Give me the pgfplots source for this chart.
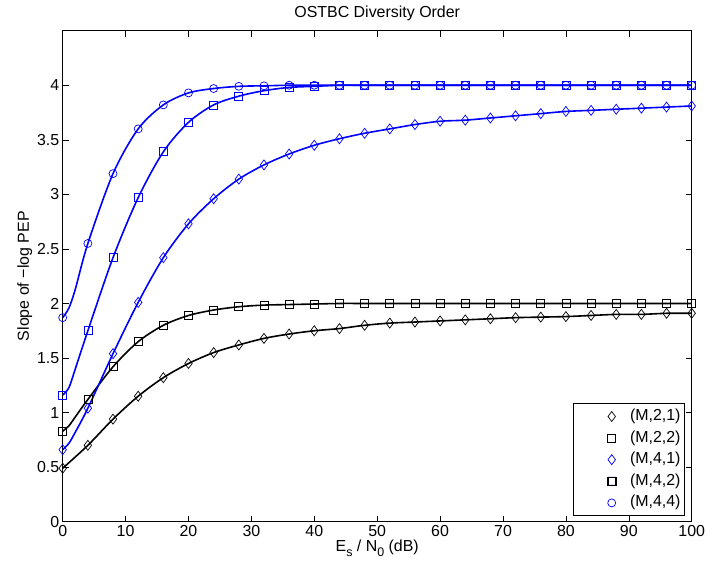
\documentclass[border=0pt]{standalone}
\usepackage{fontspec}
\setmainfont{Liberation Sans}
\usepackage{pgfplots}
\pgfplotsset{compat=1.18}
\definecolor{mblue}{RGB}{0,0,255}
\newcommand{\fs}{\fontsize{16}{18}\selectfont}
\newcommand{\sub}[1]{\raisebox{-0.55ex}{\fontsize{12.5}{13}\selectfont #1}}
\begin{document}
\begin{tikzpicture}
\begin{axis}[
  scale only axis, width=629bp, height=491bp,
  xmin=0,xmax=100,ymin=0,ymax=4.5,
  xtick={0,10,...,100}, ytick={0,0.5,...,4},
  tick align=inside, major tick length=6bp,
  tick style={black, line width=0.5bp},
  axis line style={line width=0.8bp},
  tick label style={font=\fs},
  label style={font=\fs},
  title style={font=\fs, yshift=0bp},
  title={OSTBC Diversity Order},
  xlabel={E\sub{s} / N\sub{0} (dB)},
  ylabel={Slope of −log PEP},
  xlabel style={yshift=3bp},
  ylabel style={yshift=-2bp},
  /pgf/number format/assume math mode=true,
  legend style={at={(0.989,0.0116)}, anchor=south east, draw=black, line width=0.6bp, font=\fs, row sep=0bp, inner xsep=2bp, inner ysep=2bp,
     nodes={text height=12bp, text depth=4bp, inner ysep=2.8bp}},
  legend cell align=left,
  legend image code/.code={\path (-36bp,0) (16bp,0); \draw[#1] plot coordinates {(0bp,0bp)};},
]
\addlegendimage{only marks, color=black, mark=diamond, mark size=5bp, mark options={line width=0.7bp}}
\addlegendentry{(M,2,1)}
\addlegendimage{only marks, color=black, mark=square, mark size=4bp, mark options={line width=0.7bp}}
\addlegendentry{(M,2,2)}
\addlegendimage{only marks, color=blue, mark=diamond, mark size=5bp, mark options={line width=0.7bp}}
\addlegendentry{(M,4,1)}
\addlegendimage{legend image code/.code={\path (-36bp,0) (16bp,0); \fill[fill=blue, even odd rule] (-4.35bp,-4.35bp) rectangle (4.35bp,4.35bp) (-3.65bp,-3.65bp) rectangle (3.65bp,3.65bp);}}
\addlegendentry{(M,4,2)}
\addlegendimage{only marks, color=blue, mark=o, mark size=4bp, mark options={line width=0.7bp}}
\addlegendentry{(M,4,4)}
% lines
\addplot[black, line width=1.6bp, smooth, forget plot] coordinates {
(0,0.49)(4,0.70)(8,0.94)(12,1.15)(16,1.32)(20,1.45)(24,1.55)(28,1.62)(32,1.68)(36,1.72)(40,1.75)(44,1.77)(48,1.80)(52,1.82)(56,1.83)(60,1.84)(64,1.85)(68,1.86)(72,1.87)(76,1.875)(80,1.88)(84,1.89)(88,1.90)(92,1.90)(96,1.91)(100,1.91)};
\addplot[black, line width=1.6bp, smooth, forget plot] coordinates {
(0,0.83)(1,0.88)(2,0.96)(4,1.12)(8,1.42)(12,1.65)(16,1.80)(20,1.89)(24,1.94)(28,1.97)(32,1.985)(36,1.99)(40,1.995)(44,2.0)(48,2.0)(52,2.0)(56,2.0)(60,2.0)(64,2.0)(68,2.0)(72,2.0)(76,2.0)(80,2.0)(84,2.0)(88,2.0)(92,2.0)(96,2.0)(100,2.0)};
\addplot[mblue, line width=1.6bp, smooth, forget plot] coordinates {
(0,0.66)(1,0.72)(2,0.82)(4,1.04)(8,1.54)(12,2.01)(16,2.42)(20,2.73)(24,2.96)(28,3.14)(32,3.27)(36,3.37)(40,3.45)(44,3.51)(48,3.56)(52,3.60)(56,3.64)(60,3.67)(64,3.68)(68,3.70)(72,3.72)(76,3.74)(80,3.76)(84,3.77)(88,3.78)(92,3.79)(96,3.80)(100,3.81)};
\addplot[mblue, line width=1.6bp, smooth, forget plot] coordinates {
(0,1.16)(1,1.23)(2,1.40)(4,1.75)(8,2.42)(12,2.97)(16,3.39)(20,3.66)(24,3.82)(28,3.90)(32,3.95)(36,3.98)(40,3.99)(44,4.0)(48,4.0)(52,4.0)(56,4.0)(60,4.0)(64,4.0)(68,4.0)(72,4.0)(76,4.0)(80,4.0)(84,4.0)(88,4.0)(92,4.0)(96,4.0)(100,4.0)};
\addplot[mblue, line width=1.6bp, smooth, forget plot] coordinates {
(0,1.87)(1,1.96)(2,2.13)(4,2.55)(8,3.19)(12,3.60)(16,3.82)(20,3.93)(24,3.97)(28,3.99)(32,3.995)(36,4.0)(40,4.0)(44,4.0)(48,4.0)(52,4.0)(56,4.0)(60,4.0)(64,4.0)(68,4.0)(72,4.0)(76,4.0)(80,4.0)(84,4.0)(88,4.0)(92,4.0)(96,4.0)(100,4.0)};
% markers
\addplot[black, only marks, mark=diamond, mark size=5bp, mark options={line width=0.7bp}, forget plot] coordinates {
(0,0.49)(4,0.70)(8,0.94)(12,1.15)(16,1.32)(20,1.45)(24,1.55)(28,1.62)(32,1.68)(36,1.72)(40,1.75)(44,1.77)(48,1.80)(52,1.82)(56,1.83)(60,1.84)(64,1.85)(68,1.86)(72,1.87)(76,1.875)(80,1.88)(84,1.89)(88,1.90)(92,1.90)(96,1.91)(100,1.91)};
\addplot[black, only marks, mark=square, mark size=4bp, mark options={line width=0.7bp}, forget plot] coordinates {
(0,0.83)(4,1.12)(8,1.42)(12,1.65)(16,1.80)(20,1.89)(24,1.94)(28,1.97)(32,1.985)(36,1.99)(40,1.995)(44,2.0)(48,2.0)(52,2.0)(56,2.0)(60,2.0)(64,2.0)(68,2.0)(72,2.0)(76,2.0)(80,2.0)(84,2.0)(88,2.0)(92,2.0)(96,2.0)(100,2.0)};
\addplot[mblue, only marks, mark=diamond, mark size=5bp, mark options={line width=0.7bp}, forget plot] coordinates {
(0,0.66)(4,1.04)(8,1.54)(12,2.01)(16,2.42)(20,2.73)(24,2.96)(28,3.14)(32,3.27)(36,3.37)(40,3.45)(44,3.51)(48,3.56)(52,3.60)(56,3.64)(60,3.67)(64,3.68)(68,3.70)(72,3.72)(76,3.74)(80,3.76)(84,3.77)(88,3.78)(92,3.79)(96,3.80)(100,3.81)};
\addplot[mblue, only marks, mark=square, mark size=4bp, mark options={line width=0.7bp}, forget plot] coordinates {
(0,1.16)(4,1.75)(8,2.42)(12,2.97)(16,3.39)(20,3.66)(24,3.82)(28,3.90)(32,3.95)(36,3.98)(40,3.99)(44,4.0)(48,4.0)(52,4.0)(56,4.0)(60,4.0)(64,4.0)(68,4.0)(72,4.0)(76,4.0)(80,4.0)(84,4.0)(88,4.0)(92,4.0)(96,4.0)(100,4.0)};
\addplot[mblue, only marks, mark=o, mark size=4bp, mark options={line width=0.7bp}, forget plot] coordinates {
(0,1.87)(4,2.55)(8,3.19)(12,3.60)(16,3.82)(20,3.93)(24,3.97)(28,3.99)(32,3.995)(36,4.0)(40,4.0)(44,4.0)(48,4.0)(52,4.0)(56,4.0)(60,4.0)(64,4.0)(68,4.0)(72,4.0)(76,4.0)(80,4.0)(84,4.0)(88,4.0)(92,4.0)(96,4.0)(100,4.0)};
\end{axis}
\pgfresetboundingbox
\path (current axis.south west) ++(-62.7bp,-48.3bp) rectangle ++(707bp,570bp);
\end{tikzpicture}
\end{document}
